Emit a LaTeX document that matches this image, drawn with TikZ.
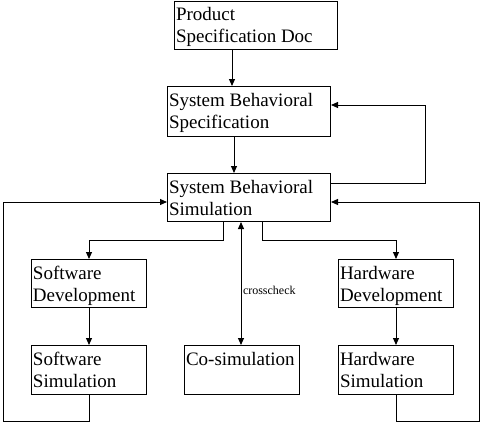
\documentclass[tikz,border=0pt]{standalone}
\usepackage{fontspec}
\setmainfont{Liberation Serif}
\usetikzlibrary{arrows.meta}
\newcommand{\bt}[3]{\parbox[b][#2][t]{#1}{\strut #3}}
\begin{document}
\begin{tikzpicture}[x=1pt,y=-1pt,
  box/.style={draw, line width=1pt, inner xsep=1.5pt, inner ysep=4.5pt,
    font=\fontsize{19}{22}\selectfont, anchor=north west},
  arr/.style={line width=1pt, -{Triangle[width=6pt,length=7pt]}},
  darr/.style={line width=1pt, {Triangle[width=6pt,length=7pt]}-{Triangle[width=6pt,length=7pt]}},
  ln/.style={line width=1pt}]
\useasboundingbox (0,0) rectangle (483,424);
% boxes
\node[box] (pd) at (174,0.5) {\bt{160pt}{39.5pt}{Product\\Specification Doc}};
\node[box] (sbs) at (167,86) {\bt{160pt}{41pt}{System Behavioral\\Specification}};
\node[box] (sim) at (167,173) {\bt{160pt}{39pt}{System Behavioral\\Simulation}};
\node[box] (swd) at (31,259) {\bt{112pt}{39pt}{Software\\Development}};
\node[box] (hwd) at (338,259) {\bt{112pt}{39pt}{Hardware\\Development}};
\node[box] (sws) at (31,345) {\bt{112pt}{40pt}{Software\\Simulation}};
\node[box] (cos) at (184,345) {\bt{112pt}{40pt}{Co-simulation}};
\node[box] (hws) at (338,345) {\bt{112pt}{40pt}{Hardware\\Simulation}};
% helper coordinates
\coordinate (x232) at (232,0);
\coordinate (x234) at (234,0);
\coordinate (x223) at (223,0);
\coordinate (x262) at (262,0);
\coordinate (x241) at (241,0);
\coordinate (y105) at (0,105);
\coordinate (y183) at (0,183);
\coordinate (y202) at (0,202);
\coordinate (y240) at (0,240);
\coordinate (bl) at (3.5,421.5);
\coordinate (br) at (479.5,421.5);
\coordinate (tr) at (425,105);
% connectors
\draw[arr] (x232 |- pd.south) -- (x232 |- sbs.north);
\draw[arr] (x234 |- sbs.south) -- (x234 |- sim.north);
\draw[arr] (sim.east |- y183) -| (tr) -- (sbs.east |- y105);
\draw[arr] (sws.south) |- (bl) |- (sim.west |- y202);
\draw[arr] (hws.south) |- (br) |- (sim.east |- y202);
\draw[arr] (x223 |- sim.south) |- (swd.north |- y240) -- (swd.north);
\draw[arr] (x262 |- sim.south) |- (hwd.north |- y240) -- (hwd.north);
\draw[darr] (x241 |- sim.south) -- node[pos=0.56, anchor=west, inner xsep=1.5pt, font=\fontsize{12}{14}\selectfont] (cc) {crosscheck} (x241 |- cos.north);
\draw[arr] (swd.south) -- (sws.north);
\draw[arr] (hwd.south) -- (hws.north);
\end{tikzpicture}
\end{document}
